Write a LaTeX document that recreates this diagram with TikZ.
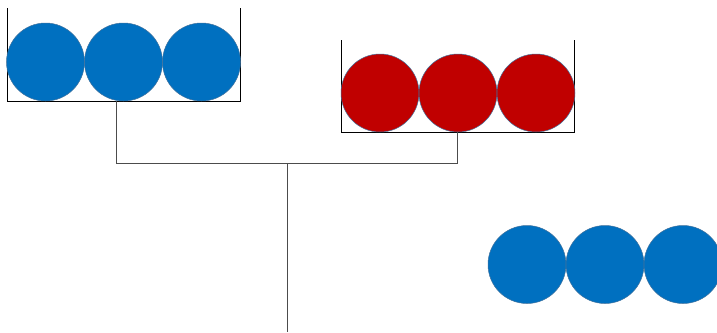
\documentclass[tikz,border=0pt]{standalone}
\usetikzlibrary{positioning}
\definecolor{ballblue}{RGB}{0,112,192}
\definecolor{ballred}{RGB}{192,0,0}
\definecolor{rimblue}{RGB}{65,113,156}
\begin{document}
\begin{tikzpicture}[x=1pt, y=-1pt,
        ball/.style={circle, minimum size=78pt, inner sep=0pt, outer sep=0pt, draw=rimblue, line width=0.5pt},
        tray/.style={black, line width=1pt},
        link/.style={black!70, line width=1pt}]
        \useasboundingbox (0,0) rectangle (717,332);
        % left tray, blue balls
        \draw[tray] (7,8) |- (240,101) -- (240,8);
        \node[ball, fill=ballblue] (blueA) at (45.5,62) {};
        \node[ball, fill=ballblue, right=0pt of blueA] (blueB) {};
        \node[ball, fill=ballblue, right=0pt of blueB] (blueC) {};
        % right tray, red balls
        \draw[tray] (341,40) |- (574,132) -- (574,40);
        \node[ball, fill=ballred] (redA) at (380,93) {};
        \node[ball, fill=ballred, right=0pt of redA] (redB) {};
        \node[ball, fill=ballred, right=0pt of redB] (redC) {};
        % loose blue balls
        \node[ball, fill=ballblue] (outA) at (527,264.5) {};
        \node[ball, fill=ballblue, right=0pt of outA] (outB) {};
        \node[ball, fill=ballblue, right=0pt of outB] (outC) {};
        % joining lines
        \coordinate (lefttap) at (116,101);
        \coordinate (righttap) at (457.5,132);
        \coordinate (join) at (287,163.5);
        \coordinate (stem) at (287,332);
        \draw[link] (lefttap) -- (lefttap |- join) -- (righttap |- join) -- (righttap);
        \draw[link] (join) -- (stem);
    \end{tikzpicture}
\end{document}
